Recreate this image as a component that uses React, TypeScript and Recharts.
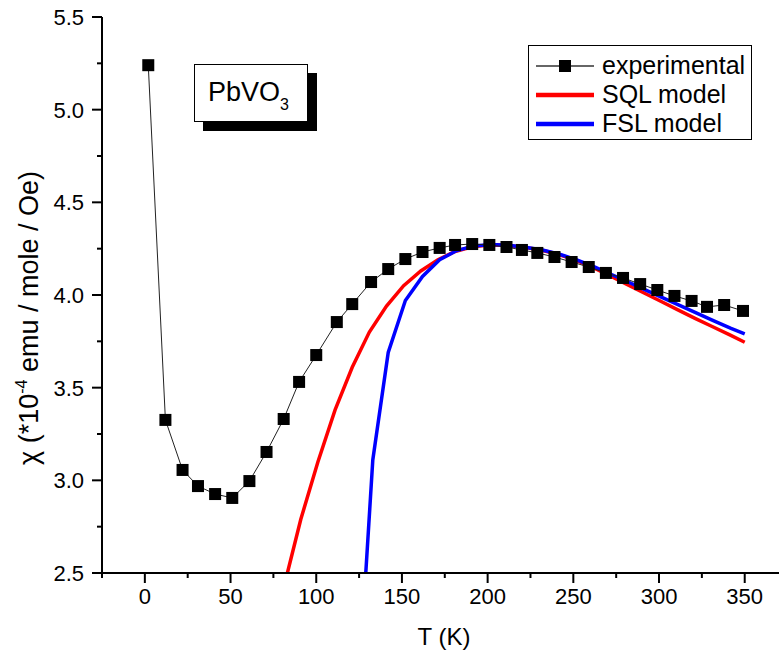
import { LineChart, Line, XAxis, YAxis } from 'recharts'

// experimental points
const expT = [2, 12, 22, 31, 41, 51, 61, 71, 81, 90, 100, 112, 121, 132, 142, 152, 162, 172, 181, 191, 201, 211, 220, 229, 239, 249, 259, 269, 279, 289, 299, 309, 319, 328, 338, 349]
const expChi = [5.24, 3.326, 3.056, 2.969, 2.926, 2.905, 2.996, 3.153, 3.331, 3.531, 3.676, 3.854, 3.951, 4.07, 4.14, 4.194, 4.232, 4.254, 4.27, 4.275, 4.27, 4.259, 4.243, 4.227, 4.205, 4.178, 4.151, 4.119, 4.092, 4.059, 4.027, 3.995, 3.968, 3.936, 3.946, 3.914]

// SQL model
const sqlT = [81, 91, 101, 111, 121, 131, 141, 151, 161, 171, 181, 191, 201, 211, 221, 231, 241, 251, 261, 271, 281, 291, 301, 311, 321, 331, 341, 350]
const sqlChi = [2.42, 2.79, 3.1, 3.38, 3.61, 3.8, 3.94, 4.05, 4.13, 4.19, 4.235, 4.26, 4.27, 4.268, 4.258, 4.243, 4.22, 4.19, 4.15, 4.105, 4.058, 4.012, 3.966, 3.92, 3.874, 3.83, 3.786, 3.745]

// FSL model
const fslT = [128.5, 133, 142, 152, 162, 172, 182, 192, 202, 212, 222, 232, 242, 252, 262, 272, 282, 292, 302, 312, 322, 332, 342, 350]
const fslChi = [2.44, 3.11, 3.69, 3.97, 4.1, 4.19, 4.24, 4.265, 4.272, 4.268, 4.258, 4.243, 4.22, 4.19, 4.153, 4.112, 4.07, 4.028, 3.986, 3.944, 3.902, 3.86, 3.82, 3.79]

const seriesNames = ['experimental', 'SQL model', 'FSL model']
const xTicks = [-25, 0, 25, 50, 75, 100, 125, 150, 175, 200, 225, 250, 275, 300, 325, 350]
const yTicks = [2.5, 2.75, 3, 3.25, 3.5, 3.75, 4, 4.25, 4.5, 4.75, 5, 5.25, 5.5]

const zip = (t: number[], c: number[]) => t.map((T, i) => ({ T, chi: c[i] }))
const expData = zip(expT, expChi)
const sqlData = zip(sqlT, sqlChi)
const fslData = zip(fslT, fslChi)

const FONT = '"Liberation Sans", Arial, sans-serif'
const isMajorX = (v: number) => v % 50 === 0
const isMajorY = (v: number) => Math.abs(v * 2 - Math.round(v * 2)) < 1e-6

const BottomTick = ({ x, y, payload }: any) => {
  const major = isMajorX(payload.value)
  return (
    <g>
      <line x1={x} x2={x} y1={y} y2={y + (major ? 10 : 5)} stroke="#000" strokeWidth={2} />
      {major && (
        <text x={x} y={y + 31} textAnchor="middle" fontSize={22} fontFamily={FONT} fill="#000">
          {payload.value}
        </text>
      )}
    </g>
  )
}

const TopTick = ({ x, y, payload }: any) => {
  const major = isMajorX(payload.value)
  return <line x1={x} x2={x} y1={y} y2={y + (major ? 10 : 5)} stroke="#000" strokeWidth={2} />
}

const LeftTick = ({ x, y, payload }: any) => {
  const major = isMajorY(payload.value)
  return (
    <g>
      <line x1={x} x2={x - (major ? 10 : 5)} y1={y} y2={y} stroke="#000" strokeWidth={2} />
      {major && (
        <text x={x - 18} y={y + 8} textAnchor="end" fontSize={22} fontFamily={FONT} fill="#000">
          {payload.value.toFixed(1)}
        </text>
      )}
    </g>
  )
}

const RightTick = ({ x, y, payload }: any) => {
  const major = isMajorY(payload.value)
  return <line x1={x} x2={x - (major ? 10 : 5)} y1={y} y2={y} stroke="#000" strokeWidth={2} />
}

const SquareDot = (props: any) => {
  const { cx, cy, index } = props
  if (cx == null || cy == null) return <g key={index} />
  return <rect key={index} x={cx - 6} y={cy - 6} width={12} height={12} fill="#000" />
}

const YTitle = () => (
  <text
    transform="translate(38, 318) rotate(-90)"
    textAnchor="middle"
    fontSize={27}
    fontFamily={FONT}
    fill="#000"
  >
    χ (*10<tspan fontSize={16} dy={-11}>-4</tspan>
    <tspan dy={11}> emu / mole / Oe)</tspan>
  </text>
)

const legendRows = [
  { name: seriesNames[0], color: '#666', width: 2, marker: 'square' },
  { name: seriesNames[1], color: '#ff0000', width: 4.5, marker: 'dot' },
  { name: seriesNames[2], color: '#0000ff', width: 4.5, marker: 'dot' },
]

export default function App() {
  return (
    <div style={{ position: 'absolute', left: 0, top: 0, width: 779, height: 657, background: '#fff', fontFamily: FONT }}>
      <LineChart width={779} height={657} margin={{ top: 17, right: 0, bottom: 0, left: 0 }}>
        <XAxis
          xAxisId="t"
          orientation="top"
          type="number"
          dataKey="T"
          domain={[-25, 370]}
          allowDataOverflow
          ticks={xTicks}
          interval={0}
          height={0}
          tickSize={0}
          tickMargin={0}
          tickLine={false}
          tick={<TopTick />}
          axisLine={{ stroke: '#000', strokeWidth: 2 }}
        />
        <XAxis
          xAxisId="b"
          type="number"
          dataKey="T"
          domain={[-25, 370]}
          allowDataOverflow
          ticks={xTicks}
          interval={0}
          height={84}
          tickSize={0}
          tickMargin={0}
          tickLine={false}
          tick={<BottomTick />}
          axisLine={{ stroke: '#000', strokeWidth: 2 }}
        />
        <YAxis
          yAxisId="l"
          type="number"
          domain={[2.5, 5.5]}
          allowDataOverflow
          ticks={yTicks}
          interval={0}
          width={102}
          tickSize={0}
          tickMargin={0}
          tickLine={false}
          tick={<LeftTick />}
          axisLine={{ stroke: '#000', strokeWidth: 2 }}
        />
        <YAxis
          yAxisId="r"
          orientation="right"
          type="number"
          domain={[2.5, 5.5]}
          allowDataOverflow
          ticks={yTicks}
          interval={0}
          width={0}
          tickSize={0}
          tickMargin={0}
          tickLine={false}
          tick={<RightTick />}
          axisLine={{ stroke: '#000', strokeWidth: 2 }}
        />
        <Line
          xAxisId="b"
          yAxisId="l"
          data={sqlData}
          dataKey="chi"
          name={seriesNames[1]}
          type="linear"
          stroke="#ff0000"
          strokeWidth={3.5}
          dot={false}
          isAnimationActive={false}
        />
        <Line
          xAxisId="b"
          yAxisId="l"
          data={fslData}
          dataKey="chi"
          name={seriesNames[2]}
          type="linear"
          stroke="#0000ff"
          strokeWidth={3.5}
          dot={false}
          isAnimationActive={false}
        />
        <Line
          xAxisId="b"
          yAxisId="l"
          data={expData}
          dataKey="chi"
          name={seriesNames[0]}
          type="linear"
          stroke="#222"
          strokeWidth={1}
          dot={<SquareDot />}
          isAnimationActive={false}
        />
        <YTitle />
        <text x={444} y={645} textAnchor="middle" fontSize={24} fontFamily={FONT} fill="#000">
          T (K)
        </text>
      </LineChart>

      {/* compound label with shadow */}
      <div
        style={{
          position: 'absolute',
          left: 194,
          top: 64,
          width: 112,
          height: 56,
          border: '1px solid #000',
          background: '#fff',
          boxShadow: '9px 9px 0 #000',
          boxSizing: 'content-box',
        }}
      >
        <div style={{ position: 'absolute', left: 13, top: 12, fontSize: 27, lineHeight: '30px', whiteSpace: 'nowrap' }}>
          PbVO<span style={{ fontSize: 16, position: 'relative', top: 9 }}>3</span>
        </div>
      </div>

      {/* legend */}
      <div
        style={{
          position: 'absolute',
          left: 528,
          top: 45,
          width: 222,
          height: 93,
          border: '1px solid #000',
          background: '#fff',
        }}
      >
        {legendRows.map((r, i) => (
          <div key={r.name} style={{ position: 'absolute', left: 0, top: 6 + i * 29, height: 28, width: 222 }}>
            <svg width={70} height={28} style={{ position: 'absolute', left: 0, top: 0 }}>
              <line x1={7} x2={65} y1={14} y2={14} stroke={r.color} strokeWidth={r.width} />
              {r.marker === 'square' ? (
                <rect x={30} y={8} width={12} height={12} fill="#000" />
              ) : (
                <circle cx={36} cy={14} r={2} fill={r.color} />
              )}
            </svg>
            <div style={{ position: 'absolute', left: 73, top: -1, fontSize: 25, lineHeight: '28px', whiteSpace: 'nowrap' }}>
              {r.name}
            </div>
          </div>
        ))}
      </div>
    </div>
  )
}
